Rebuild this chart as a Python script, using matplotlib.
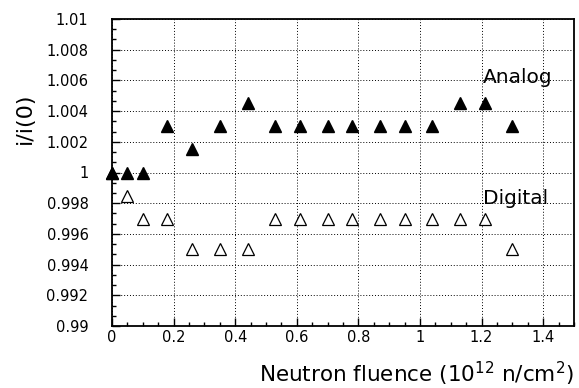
import numpy as np
import matplotlib
matplotlib.use("Agg")
import matplotlib.pyplot as plt
from matplotlib.ticker import AutoMinorLocator

fluence = [0.0, 0.05, 0.10, 0.18, 0.26, 0.35, 0.44, 0.53, 0.61, 0.70,
           0.78, 0.87, 0.95, 1.04, 1.13, 1.21, 1.30]
analog = [1.0, 1.0, 1.0, 1.003, 1.0015, 1.003, 1.0045, 1.003, 1.003, 1.003,
          1.003, 1.003, 1.003, 1.003, 1.0045, 1.0045, 1.003]
digital = [1.0, 0.9985, 0.997, 0.997, 0.995, 0.995, 0.995, 0.997, 0.997, 0.997,
           0.997, 0.997, 0.997, 0.997, 0.997, 0.997, 0.995]

yticks = [0.99, 0.992, 0.994, 0.996, 0.998, 1.0, 1.002, 1.004, 1.006, 1.008, 1.01]
ylabels = ["0.99", "0.992", "0.994", "0.996", "0.998", "1", "1.002", "1.004", "1.006", "1.008", "1.01"]
xticks = [0, 0.2, 0.4, 0.6, 0.8, 1.0, 1.2, 1.4]
xlabels = ["0", "0.2", "0.4", "0.6", "0.8", "1", "1.2", "1.4"]

fig = plt.figure(figsize=(5.79, 3.88), dpi=100)
ax = fig.add_axes([112/579, 62/388, 462/579, 307/388])

ax.plot(fluence, digital, linestyle="none", marker="^", markersize=8,
        markerfacecolor="white", markeredgecolor="black", markeredgewidth=0.9, clip_on=False)
ax.plot(fluence, analog, linestyle="none", marker="^", markersize=8,
        color="black", clip_on=False)

ax.set_xlim(0, 1.5)
ax.set_ylim(0.99, 1.01)
ax.set_xticks(xticks)
ax.set_xticklabels(xlabels)
ax.set_yticks(yticks)
ax.set_yticklabels(ylabels)
ax.xaxis.set_minor_locator(AutoMinorLocator(4))
ax.yaxis.set_minor_locator(AutoMinorLocator(3))
ax.tick_params(which="both", direction="in", top=False, right=False, labelsize=10.5)
ax.tick_params(which="major", length=6, width=1)
ax.tick_params(which="minor", length=3, width=1)
ax.tick_params(axis="x", pad=3)
ax.tick_params(axis="y", pad=17)
ax.grid(True, which="major", linestyle=(0, (1, 2)), color="black", linewidth=0.7)
for s in ax.spines.values():
    s.set_linewidth(1.3)

ax.text(1.205, 1.0062, "Analog", fontsize=14.5, ha="left", va="center")
ax.text(1.205, 0.9983, "Digital", fontsize=14.5, ha="left", va="center")

fig.text(25/579, 1 - 118/388, "i/i(0)", fontsize=16, rotation=90,
         ha="center", va="center")
fig.text(574/579, 6/388, r"Neutron fluence (10$^{\mathregular{12}}$ n/cm$^{\mathregular{2}}$)",
         fontsize=15.5, ha="right", va="baseline")

fig.savefig("out.png", dpi=100)
